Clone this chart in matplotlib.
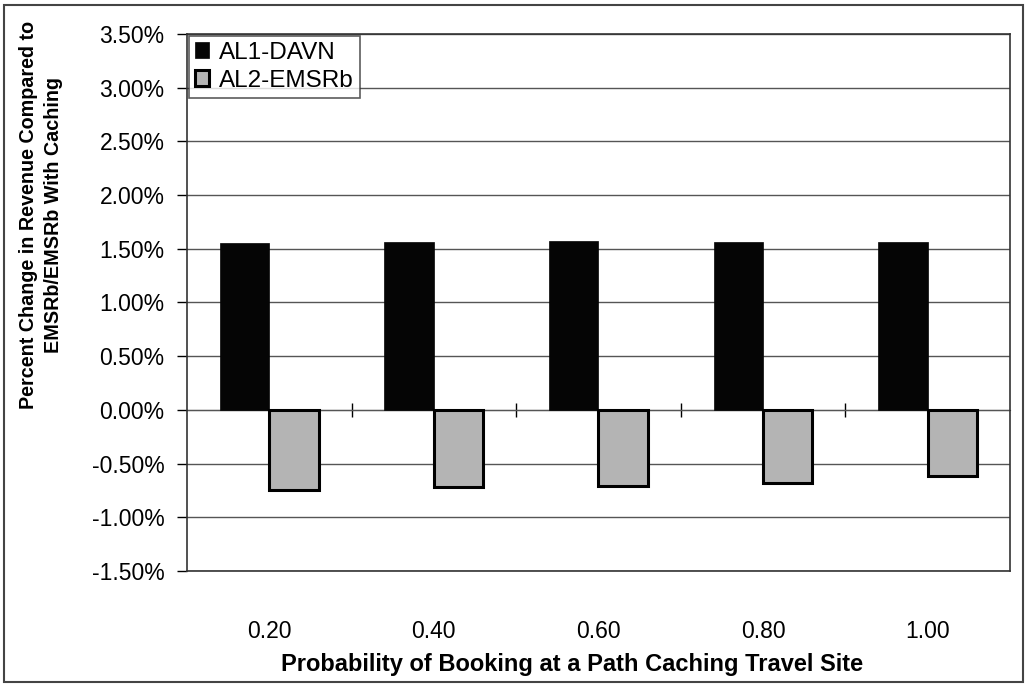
import numpy as np
import matplotlib
matplotlib.use("Agg")
import matplotlib.pyplot as plt
from matplotlib.ticker import FuncFormatter
from matplotlib.patches import Rectangle

# values (percent)
categories = ["0.20", "0.40", "0.60", "0.80", "1.00"]
al1_davn = [1.55, 1.56, 1.57, 1.56, 1.56]
al2_emsrb = [-0.75, -0.72, -0.71, -0.68, -0.62]
series_names = ["AL1-DAVN", "AL2-EMSRb"]

plt.rcParams["font.family"] = ["Liberation Sans", "DejaVu Sans"]

fig = plt.figure(figsize=(10.27, 6.87), dpi=100)
ax = fig.add_axes([0.182, 0.169, 0.8014, 0.7815])

x = np.arange(len(categories))
w = 0.30
ax.bar(x - w / 2, al1_davn, w, color="#050505", edgecolor="#050505",
       linewidth=0.5, label=series_names[0], zorder=3)
ax.bar(x + w / 2, al2_emsrb, w, color="#b4b4b4", edgecolor="black",
       linewidth=2.2, label=series_names[1], zorder=3)

ax.set_xlim(-0.5, len(categories) - 0.5)
ax.set_ylim(-1.5, 3.5)
ax.set_yticks(np.arange(-1.5, 3.51, 0.5))
ax.yaxis.set_major_formatter(FuncFormatter(lambda v, p: f"{v:.2f}%"))
ax.grid(axis="y", color="#555555", linewidth=1.0, zorder=0)
ax.tick_params(axis="y", direction="out", length=7, width=1, pad=9,
               labelsize=16.5, colors="black")

ax.set_xticks(x)
ax.set_xticklabels(categories, fontsize=16.5)
ax.tick_params(axis="x", length=0, pad=35)

# category axis at zero with tick marks between groups
sec = ax.secondary_xaxis(1.5 / 5.0)
sec.set_xticks(np.arange(0.5, len(categories) - 1, 1.0))
sec.set_xticklabels([])
sec.tick_params(axis="x", direction="inout", length=10, width=1)
sec.spines["bottom"].set_color("#333333")

for s in ax.spines.values():
    s.set_color("#333333")
    s.set_linewidth(1.2)

leg = ax.legend(loc="upper left", bbox_to_anchor=(0.002, 0.997), fontsize=17.5,
                frameon=True, fancybox=False, edgecolor="#333333",
                handlelength=0.6, handleheight=0.6, handletextpad=0.4,
                borderpad=0.25, labelspacing=0.25, borderaxespad=0.0)
leg.get_frame().set_linewidth(1.2)

fig.text(572 / 1027, 1 - 664 / 687,
         "Probability of Booking at a Path Caching Travel Site",
         fontsize=17, fontweight="bold", ha="center", va="center")
fig.text(41 / 1027, 1 - 215 / 687,
         "Percent Change in Revenue Compared to\nEMSRb/EMSRb With Caching",
         fontsize=14.2, fontweight="bold", rotation=90,
         ha="center", va="center", multialignment="center", linespacing=1.45)

fig.patches.append(Rectangle((0.004, 0.008), 0.992, 0.985, transform=fig.transFigure,
                             fill=False, edgecolor="#444444", linewidth=1.5))

fig.savefig("out.png", dpi=100, facecolor="white")
